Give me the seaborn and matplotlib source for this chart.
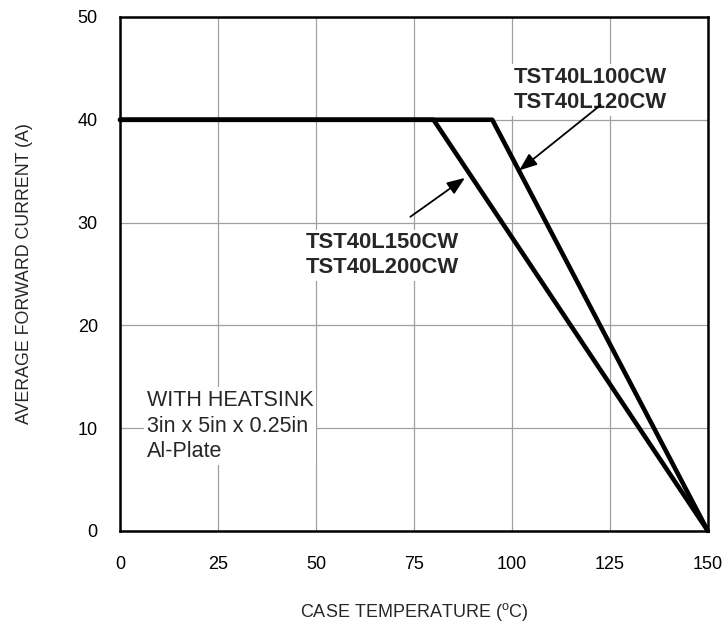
import numpy as np
import pandas as pd
import seaborn as sns
import matplotlib
matplotlib.use("Agg")
import matplotlib.pyplot as plt

# derating curves
temp_100_120 = [0, 95, 150]
amps_100_120 = [40, 40, 0]
temp_150_200 = [0, 80, 150]
amps_150_200 = [40, 40, 0]

x_ticks = [0, 25, 50, 75, 100, 125, 150]
y_ticks = [0, 10, 20, 30, 40, 50]

df = pd.concat([
    pd.DataFrame({"temp": temp_100_120, "amps": amps_100_120, "part": "100/120"}),
    pd.DataFrame({"temp": temp_150_200, "amps": amps_150_200, "part": "150/200"}),
])

sns.set_theme(style="white")
plt.rcParams["font.family"] = ["Liberation Sans", "DejaVu Sans"]
plt.rcParams["mathtext.fontset"] = "custom"
plt.rcParams["mathtext.rm"] = "Liberation Sans"

fig = plt.figure(figsize=(7.23, 6.29), dpi=100)
ax = fig.add_axes([0.166, 0.156, 0.813, 0.817])

sns.lineplot(data=df, x="temp", y="amps", units="part", estimator=None,
             color="black", linewidth=3.3, ax=ax, legend=False, clip_on=False,
             zorder=3)

ax.set_xlim(0, 150)
ax.set_ylim(0, 50)
ax.set_xticks(x_ticks)
ax.set_yticks(y_ticks)
ax.tick_params(axis="both", labelsize=13, length=0, colors="black")
ax.tick_params(axis="x", pad=18)
ax.tick_params(axis="y", pad=16)
ax.grid(True, color="#a0a0a0", linewidth=0.9)
for s in ax.spines.values():
    s.set_color("black")
    s.set_linewidth(1.8)

ax.set_xlabel(r"CASE TEMPERATURE ($^{\rm o}$C)", fontsize=13, labelpad=20)
ax.set_ylabel("AVERAGE FORWARD CURRENT (A)", fontsize=12.8, labelpad=32)

box = dict(facecolor="white", edgecolor="none", pad=2)
ax.text(119.9, 42.9, "TST40L100CW\nTST40L120CW", ha="center", va="center",
        fontsize=15.8, fontweight="bold", linespacing=1.25, bbox=box, zorder=4)
ax.text(67.0, 26.8, "TST40L150CW\nTST40L200CW", ha="center", va="center",
        fontsize=15.8, fontweight="bold", linespacing=1.25, bbox=box, zorder=4)
ax.text(6.9, 13.7, "WITH HEATSINK\n3in x 5in x 0.25in\nAl-Plate", ha="left", va="top",
        fontsize=15.5, linespacing=1.28, bbox=box, zorder=4)

arrow = dict(arrowstyle="-|>,head_length=0.9,head_width=0.35", color="black", lw=1.3)
ax.annotate("", xy=(101.3, 34.9), xytext=(123.2, 41.6), arrowprops=arrow, zorder=5)
ax.annotate("", xy=(88.6, 34.5), xytext=(73.5, 30.4), arrowprops=arrow, zorder=5)

fig.savefig("out.png", dpi=100)
